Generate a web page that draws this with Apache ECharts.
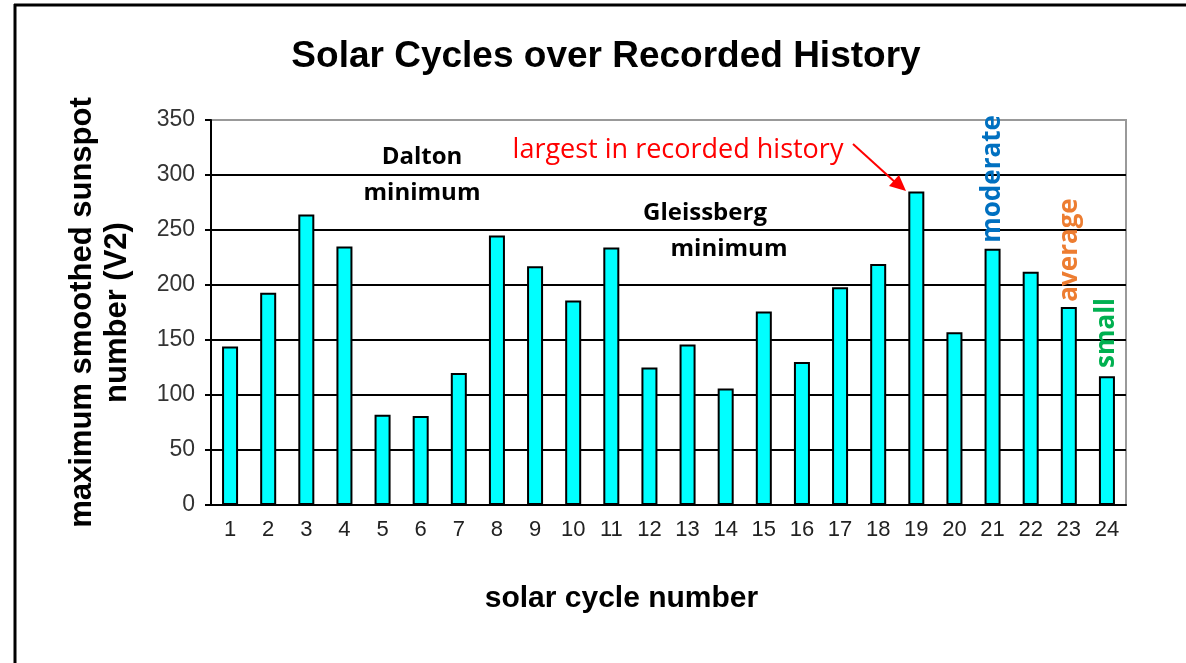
<!DOCTYPE html>
<html>
<head>
<meta charset="utf-8">
<script src="https://cdn.jsdelivr.net/npm/echarts@6/dist/echarts.min.js"></script>
<style>
  html, body { margin: 0; padding: 0; background: #fff; }
  #chart { width: 1186px; height: 663px; }
</style>
</head>
<body>
<div id="chart"></div>
<script>
// solar cycle numbers and their maximum smoothed sunspot number (V2)
var cycles = ['1', '2', '3', '4', '5', '6', '7', '8', '9', '10', '11', '12',
  '13', '14', '15', '16', '17', '18', '19', '20', '21', '22', '23', '24'];
var maxSunspot = [144, 193, 264, 235, 82, 81, 120, 245, 217, 186, 234, 125,
  146, 106, 176, 130, 198, 219, 285, 157, 233, 212, 180, 117];
var yTicks = [0, 50, 100, 150, 200, 250, 300, 350];

var arial = "'Liberation Sans', Arial, sans-serif";
var calibri = "'Open Sans', 'Noto Sans', sans-serif";

var chart = echarts.init(document.getElementById('chart'), null, { renderer: 'canvas' });

function note(text, x, y, opts) {
  opts = opts || {};
  return {
    type: 'text',
    x: x,
    y: y,
    rotation: opts.rotation || 0,
    z: 100,
    style: {
      text: text,
      fill: opts.color || '#000',
      font: (opts.weight || 'bold') + ' ' + (opts.size || 24) + 'px ' + calibri,
      textAlign: 'center',
      textVerticalAlign: 'middle'
    }
  };
}

var option = {
  animation: false,
  backgroundColor: '#fff',
  title: {
    text: 'Solar Cycles over Recorded History',
    left: 601,
    top: 33,
    textAlign: 'center',
    textStyle: { fontFamily: arial, fontSize: 37, fontWeight: 'bold', color: '#000' }
  },
  grid: {
    left: 211,
    right: 60,
    top: 120,
    bottom: 158,
    show: true,
    borderColor: '#999',
    borderWidth: 2
  },
  xAxis: {
    type: 'category',
    data: cycles,
    name: 'solar cycle number',
    nameLocation: 'middle',
    nameGap: 79,
    nameTextStyle: { fontFamily: arial, fontSize: 30, fontWeight: 'bold', color: '#000', padding: [0, 94, 0, 0] },
    axisLine: { lineStyle: { color: '#000', width: 2 } },
    axisTick: { length: 7, lineStyle: { color: '#000', width: 2 } },
    axisLabel: { fontFamily: arial, fontSize: 22, color: '#222', margin: 14 }
  },
  yAxis: {
    type: 'value',
    min: yTicks[0],
    max: yTicks[yTicks.length - 1],
    interval: 50,
    name: 'maximum smoothed sunspot\nnumber (V2)',
    nameLocation: 'middle',
    nameRotate: 90,
    nameGap: 76,
    nameTextStyle: { fontFamily: arial, fontSize: 31, fontWeight: 'bold', color: '#000', lineHeight: 35 },
    axisLine: { show: true, lineStyle: { color: '#000', width: 2 } },
    axisTick: { show: true, length: 6, lineStyle: { color: '#000', width: 2 } },
    axisLabel: { fontFamily: arial, fontSize: 23, color: '#333', margin: 16 },
    splitLine: {
      show: true,
      lineStyle: { color: ['#000', '#000', '#000', '#000', '#000', '#000', '#000', '#999'], width: 2 }
    }
  },
  series: [{
    type: 'bar',
    data: maxSunspot,
    barWidth: '42%',
    itemStyle: { color: '#00FFFF', borderColor: '#000', borderWidth: 2 }
  }],
  graphic: [
    // outer frame (top and left edges)
    { type: 'line', shape: { x1: 14, y1: 5, x2: 1186, y2: 5 }, style: { stroke: '#000', lineWidth: 3 } },
    { type: 'line', shape: { x1: 15, y1: 4, x2: 15, y2: 663 }, style: { stroke: '#000', lineWidth: 3 } },
    note('Dalton', 422, 157),
    note('minimum', 422, 193),
    note('Gleissberg', 705, 213),
    note('minimum', 729, 249),
    note('largest in recorded history', 678, 150, { color: '#FF0000', weight: 'normal', size: 27 }),
    { type: 'line', z: 100, shape: { x1: 853, y1: 144, x2: 896, y2: 183 }, style: { stroke: '#FF0000', lineWidth: 2 } },
    { type: 'polygon', z: 100, shape: { points: [[906, 191], [889, 186], [899, 175]] }, style: { fill: '#FF0000' } },
    note('moderate', 993, 179, { color: '#0070C0', size: 26, rotation: Math.PI / 2 }),
    note('average', 1070, 250, { color: '#ED7D31', size: 26, rotation: Math.PI / 2 }),
    note('small', 1107, 333, { color: '#00B050', size: 26, rotation: Math.PI / 2 })
  ]
};

chart.setOption(option);
</script>
</body>
</html>
